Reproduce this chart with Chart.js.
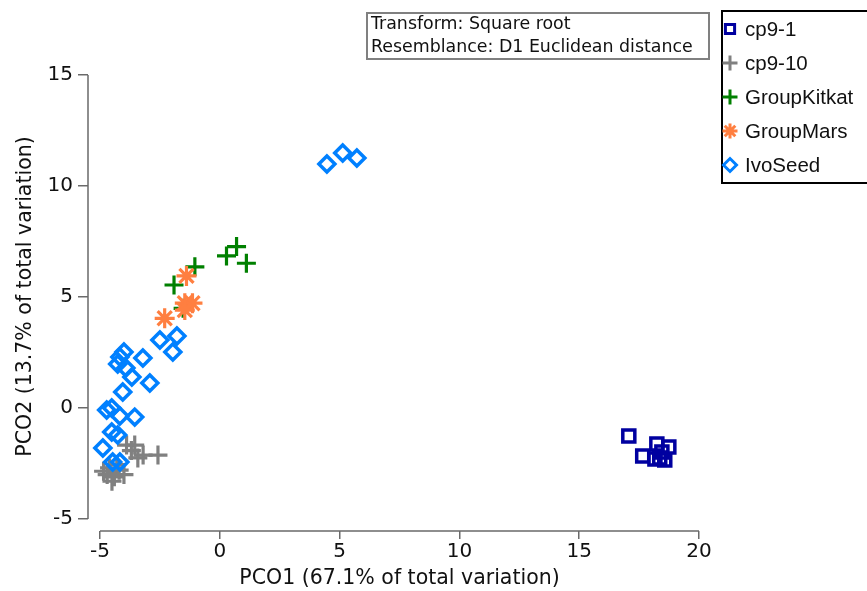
<!DOCTYPE html>
<html>
<head>
<meta charset="utf-8">
<script src="https://cdn.jsdelivr.net/npm/chart.js@4.4.1/dist/chart.umd.min.js"></script>
<style>
  html, body { margin: 0; padding: 0; background: #ffffff; }
  #wrap { width: 867px; height: 591px; position: relative; }
</style>
</head>
<body>
<div id="wrap"><canvas id="c"></canvas></div>
<script>
// ---- data ----
const seriesNames = ["cp9-1", "cp9-10", "GroupKitkat", "GroupMars", "IvoSeed"];

const cp91X = [17.07, 17.65, 18.24, 18.74, 18.45, 18.16, 18.57, 18.36];
const cp91Y = [-1.26, -2.16, -1.62, -1.76, -1.98, -2.30, -2.34, -2.25];

const cp910X = [-3.89, -3.55, -3.69, -3.20, -2.58, -3.42, -4.60, -4.40, -4.20, -4.70, -4.50, -4.00, -4.85, -4.30];
const cp910Y = [-1.67, -1.67, -1.92, -2.12, -2.12, -2.25, -2.70, -3.10, -2.80, -3.00, -3.30, -3.00, -2.85, -2.55];

const kitkatX = [-1.91, -1.04, 0.28, 0.70, 1.11, -1.53];
const kitkatY = [5.54, 6.36, 6.85, 7.27, 6.52, 4.49];

const marsX = [-1.39, -1.46, -1.14, -2.30, -1.46];
const marsY = [5.95, 4.72, 4.72, 4.04, 4.41];

const ivoX = [4.47, 5.13, 5.72, -2.50, -1.79, -1.96, -3.21, -4.17, -4.00, -4.26, -3.92, -3.67, -2.92, -4.05,
              -4.72, -4.51, -4.17, -3.55, -4.51, -4.26, -4.88, -4.47, -4.17];
const ivoY = [10.99, 11.49, 11.26, 3.06, 3.24, 2.52, 2.25, 2.30, 2.52, 1.98, 1.80, 1.40, 1.13, 0.72,
              -0.09, 0.00, -0.36, -0.41, -1.08, -1.22, -1.80, -2.43, -2.43];

const xTickValues = [-5, 0, 5, 10, 15, 20];
const yTickValues = [-5, 0, 5, 10, 15];

const xTitle = "PCO1 (67.1% of total variation)";
const yTitle = "PCO2 (13.7% of total variation)";
const noteLines = ["Transform: Square root", "Resemblance: D1 Euclidean distance"];

// ---- styles ----
const colors = ["#0000A0", "#808080", "#008000", "#FF7F40", "#0080FF"];
const styles = ["rect", "cross", "cross", "star", "rectRot"];
const radii = [8.5, 9.5, 9.5, 10, 8];
const widths = [3.5, 3.2, 3.2, 3.2, 3.5];
const legendRadii = [6.5, 7.5, 7.5, 7.5, 6.5];
const AXIS_COLOR = "#6a6a6a";

function pts(xs, ys) { return xs.map((v, i) => ({ x: v, y: ys[i] })); }
const allX = [cp91X, cp910X, kitkatX, marsX, ivoX];
const allY = [cp91Y, cp910Y, kitkatY, marsY, ivoY];

const datasets = seriesNames.map((name, i) => ({
  label: name,
  data: pts(allX[i], allY[i]),
  pointStyle: styles[i],
  pointRadius: radii[i],
  pointHoverRadius: radii[i],
  pointBorderWidth: widths[i],
  borderColor: colors[i],
  backgroundColor: "rgba(0,0,0,0)",
  order: seriesNames.length - i
}));

const overlayPlugin = {
  id: "overlay",
  afterDraw(chart) {
    const { ctx, chartArea, scales } = chart;
    const xs = scales.x, ys = scales.y;
    ctx.save();
    // R-style detached axis lines
    ctx.strokeStyle = AXIS_COLOR;
    ctx.lineWidth = 1.5;
    ctx.beginPath();
    const yb = Math.round(chartArea.bottom);
    ctx.moveTo(xs.getPixelForValue(xTickValues[0]), yb);
    ctx.lineTo(xs.getPixelForValue(xTickValues[xTickValues.length - 1]), yb);
    const xl = Math.round(chartArea.left);
    ctx.moveTo(xl, ys.getPixelForValue(yTickValues[yTickValues.length - 1]));
    ctx.lineTo(xl, ys.getPixelForValue(yTickValues[0]));
    ctx.stroke();

    // note box
    ctx.strokeStyle = "#808080";
    ctx.lineWidth = 2;
    ctx.strokeRect(367, 13, 342, 46);
    ctx.fillStyle = "#111";
    ctx.font = "17.4px 'DejaVu Sans'";
    ctx.textBaseline = "alphabetic";
    ctx.textAlign = "left";
    ctx.fillText(noteLines[0], 371, 29);
    ctx.fillText(noteLines[1], 371, 52);

    // legend box
    ctx.strokeStyle = "#000";
    ctx.lineWidth = 2;
    ctx.strokeRect(722, 11, 150, 172);
    const rowY = [29, 63, 97, 131, 165];
    ctx.font = "20.5px 'Liberation Sans'";
    ctx.textBaseline = "middle";
    seriesNames.forEach((name, i) => {
      ctx.strokeStyle = colors[i];
      ctx.fillStyle = "rgba(0,0,0,0)";
      ctx.lineWidth = 3;
      Chart.helpers.drawPoint(ctx, { pointStyle: styles[i], radius: legendRadii[i], rotation: 0, borderWidth: 3 }, 730, rowY[i]);
      ctx.fillStyle = "#111";
      ctx.fillText(name, 745, rowY[i] + 1);
    });
    ctx.restore();
  }
};

const tickFont = { family: "'DejaVu Sans'", size: 20 };
const titleFont = { family: "'DejaVu Sans'", size: 20.5 };

new Chart(document.getElementById("c"), {
  type: "scatter",
  data: { datasets },
  options: {
    responsive: true,
    maintainAspectRatio: false,
    animation: false,
    layout: { padding: { top: 62, right: 156, bottom: 0, left: 0 } },
    plugins: { legend: { display: false }, tooltip: { enabled: false } },
    scales: {
      x: {
        type: "linear",
        min: -5.5,
        max: 20.5,
        afterBuildTicks: (s) => { s.ticks = xTickValues.map(v => ({ value: v })); },
        afterFit: (s) => { s.height = 60; },
        ticks: { font: tickFont, color: "#111", padding: 1, maxRotation: 0 },
        grid: { display: true, drawOnChartArea: false, drawTicks: true, tickLength: 8, color: AXIS_COLOR, lineWidth: 1.5 },
        border: { display: false },
        title: { display: true, text: xTitle, font: titleFont, color: "#111", padding: { top: 0, bottom: 0 } }
      },
      y: {
        type: "linear",
        min: -5.5405,
        max: 15.5856,
        afterBuildTicks: (s) => { s.ticks = yTickValues.map(v => ({ value: v })); },
        afterFit: (s) => { s.width = 88; },
        ticks: { font: tickFont, color: "#111", padding: 5 },
        grid: { display: true, drawOnChartArea: false, drawTicks: true, tickLength: 10, color: AXIS_COLOR, lineWidth: 1.5 },
        border: { display: false },
        title: { display: true, text: yTitle, font: titleFont, color: "#111", padding: { top: 13, bottom: 0 } }
      }
    }
  },
  plugins: [overlayPlugin]
});
</script>
</body>
</html>
